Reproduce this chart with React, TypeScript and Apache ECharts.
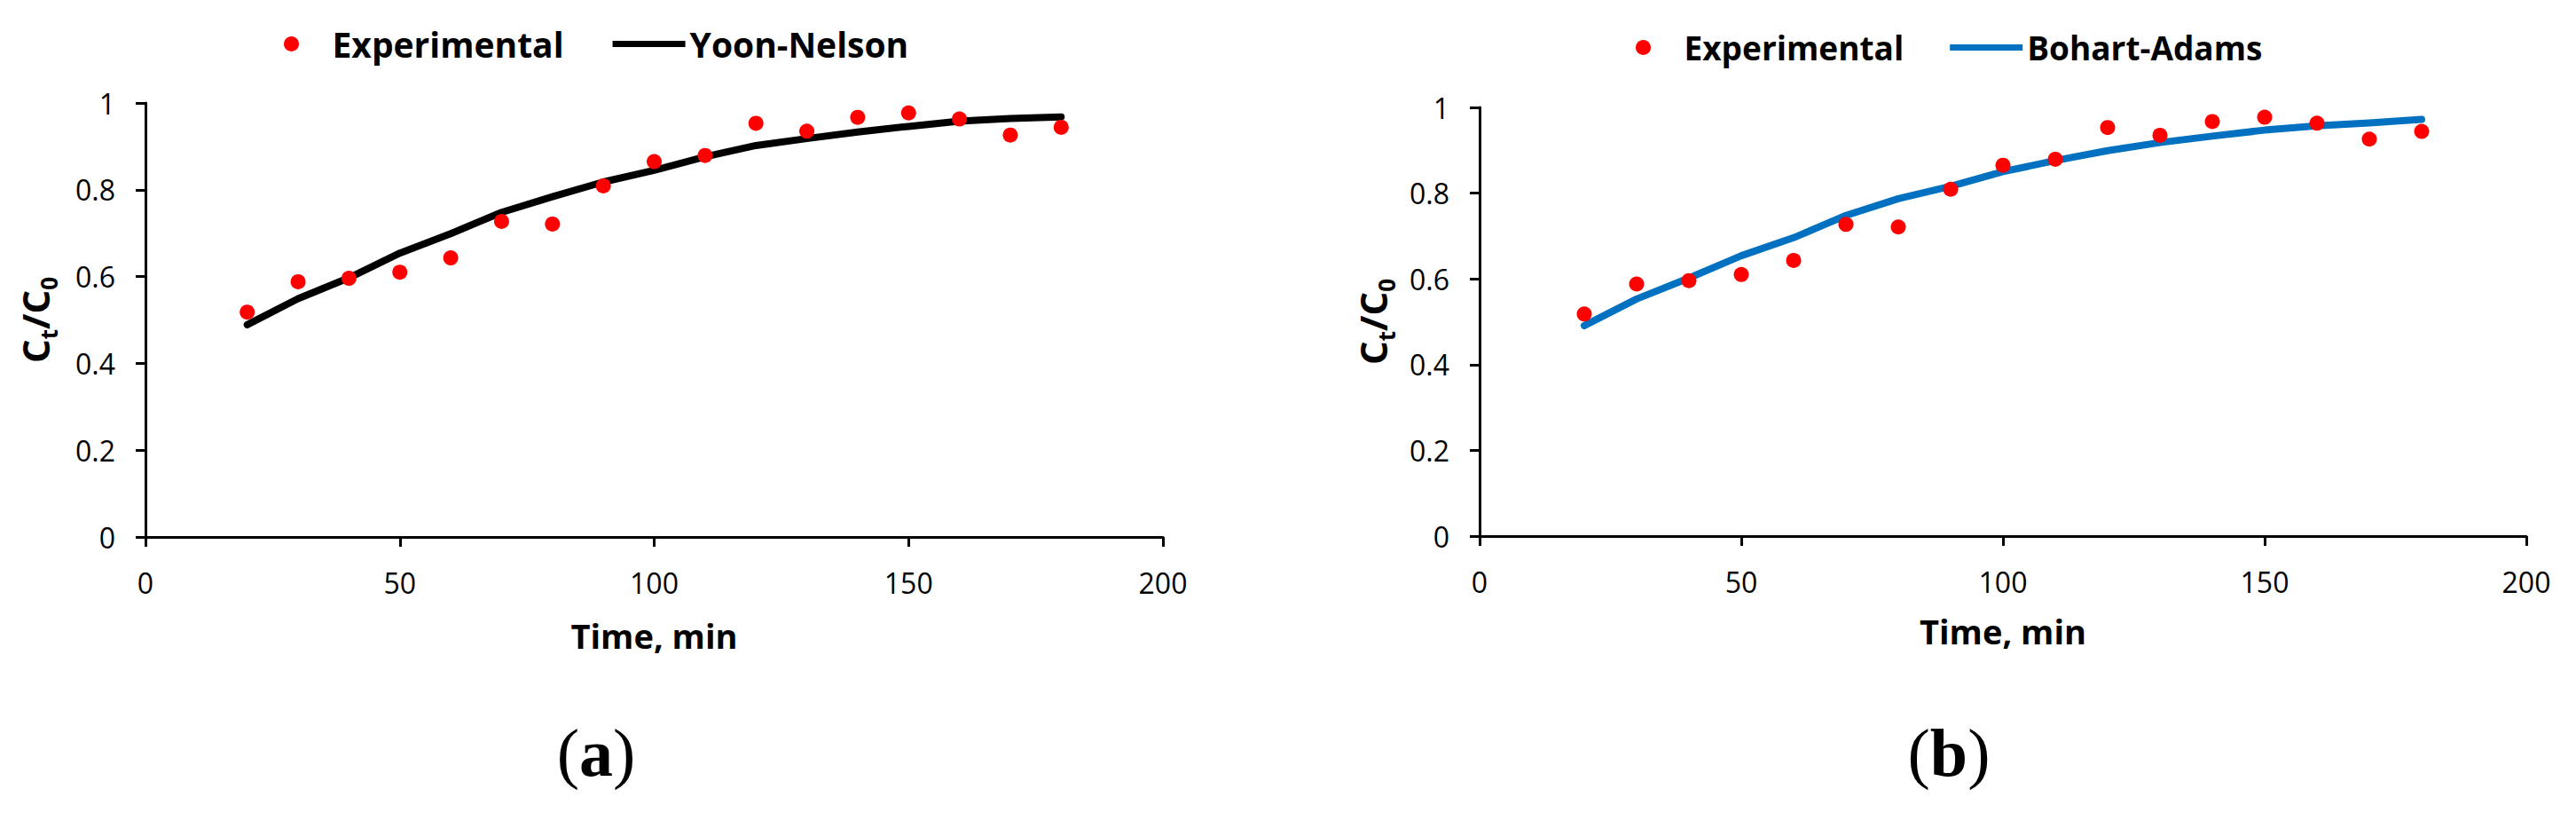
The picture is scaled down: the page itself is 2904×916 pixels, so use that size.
import React, { useEffect, useRef } from "react";
import * as echarts from "echarts";

const timeMin = [20, 30, 40, 50, 60, 70, 80, 90, 100, 110, 120, 130, 140, 150, 160, 170, 180];
const experimental = [0.518, 0.588, 0.596, 0.61, 0.643, 0.727, 0.721, 0.809, 0.865, 0.879, 0.953, 0.935, 0.967, 0.977, 0.963, 0.926, 0.944];
const yoonNelson = [0.489, 0.549, 0.597, 0.654, 0.699, 0.748, 0.784, 0.818, 0.845, 0.876, 0.902, 0.918, 0.933, 0.946, 0.958, 0.964, 0.968];
const bohartAdams = [0.491, 0.553, 0.602, 0.654, 0.696, 0.748, 0.787, 0.816, 0.85, 0.876, 0.899, 0.918, 0.933, 0.947, 0.957, 0.964, 0.972];
const panelLabels = ["a", "b"];
const modelNames = ["Yoon-Nelson", "Bohart-Adams"];

const FONT = "'Open Sans', 'Noto Sans', sans-serif";
const RED = "#FF0000";
const BLUE = "#0070C0";
const LINE_ICON = "path://M0 0H82V7H0Z";

const pairs = (ys: number[]) => timeMin.map((t, i) => [t, ys[i]]);

const xAxisBase = (gridIndex: number, nameGap: number) => ({
  type: "value",
  gridIndex,
  min: 0,
  max: 200,
  interval: 50,
  name: "Time, min",
  nameLocation: "middle",
  nameGap,
  nameTextStyle: { fontFamily: FONT, fontSize: 38, fontWeight: "bold", color: "#000" },
  axisLine: { show: true, onZero: false, lineStyle: { color: "#000", width: 3 } },
  axisTick: { show: true, inside: false, length: 11, lineStyle: { color: "#000", width: 3 } },
  axisLabel: { margin: 35, fontFamily: FONT, fontSize: 32, color: "#000" },
  splitLine: { show: false },
});

const yAxisBase = (gridIndex: number, nameGap: number) => ({
  type: "value",
  gridIndex,
  min: 0,
  max: 1,
  interval: 0.2,
  name: "{m|C}{s|t}{m|/C}{s|0}",
  nameLocation: "middle",
  nameGap,
  nameTextStyle: {
    color: "#000",
    rich: {
      m: { fontFamily: FONT, fontSize: 42, fontWeight: "bold", color: "#000", lineHeight: 44, verticalAlign: "top" },
      s: { fontFamily: FONT, fontSize: 26, fontWeight: "bold", color: "#000", lineHeight: 26, padding: [24, 0, 0, 0], verticalAlign: "top" },
    },
  },
  axisLine: { show: true, lineStyle: { color: "#000", width: 3 } },
  axisTick: { show: true, inside: false, length: 11, lineStyle: { color: "#000", width: 3 } },
  axisLabel: { margin: 34, fontFamily: FONT, fontSize: 32, color: "#000" },
  splitLine: { show: false },
});

const legendBase = (left: number, top: number, names: string[], fontSize: number, itemGap: number) => ({
  left,
  top,
  orient: "horizontal",
  itemWidth: 82,
  itemHeight: 17,
  itemGap,
  data: [{ name: names[0], icon: "circle" }, { name: names[1], icon: LINE_ICON }],
  selectedMode: false,
  textStyle: { fontFamily: FONT, fontSize, fontWeight: "bold", color: "#000" },
});

const panelText = (x: number, label: string) => ({
  type: "text",
  x,
  y: 848,
  style: {
    text: "{p|(}{b|" + label + "}{p|)}",
    align: "center",
    verticalAlign: "middle",
    rich: {
      p: { fontFamily: "'Liberation Serif', serif", fontSize: 76, color: "#000" },
      b: { fontFamily: "'Liberation Serif', serif", fontSize: 76, fontWeight: "bold", color: "#000" },
    },
  },
});

export default function App() {
  const ref = useRef<HTMLDivElement>(null);
  useEffect(() => {
    if (!ref.current) return;
    const chart = echarts.init(ref.current, null, { renderer: "svg" });
    const option: any = {
      animation: false,
      backgroundColor: "#fff",
      grid: [
        { left: 164, top: 116, width: 1147, height: 489, containLabel: false, outerBoundsMode: "none" },
        { left: 1668, top: 121, width: 1180, height: 483, containLabel: false, outerBoundsMode: "none" },
      ],
      xAxis: [xAxisBase(0, 92), xAxisBase(1, 88)],
      yAxis: [yAxisBase(0, 102), yAxisBase(1, 98)],
      legend: [
        legendBase(315, 25, ["Experimental", modelNames[0]], 39, 55),
        legendBase(1839, 30, ["Experimental", modelNames[1]], 37, 52),
      ],
      series: [
        {
          name: "Experimental",
          type: "scatter",
          xAxisIndex: 0,
          yAxisIndex: 0,
          data: pairs(experimental),
          symbol: "circle",
          symbolSize: 17,
          itemStyle: { color: RED, opacity: 1 },
          z: 3,
        },
        {
          name: modelNames[0],
          type: "line",
          xAxisIndex: 0,
          yAxisIndex: 0,
          data: pairs(yoonNelson),
          symbol: "none",
          showSymbol: false,
          lineStyle: { color: "#000", width: 8, cap: "round", join: "round" },
          itemStyle: { color: "#000" },
          z: 2,
        },
        {
          name: "Experimental",
          type: "scatter",
          xAxisIndex: 1,
          yAxisIndex: 1,
          data: pairs(experimental),
          symbol: "circle",
          symbolSize: 17,
          itemStyle: { color: RED, opacity: 1 },
          z: 3,
        },
        {
          name: modelNames[1],
          type: "line",
          xAxisIndex: 1,
          yAxisIndex: 1,
          data: pairs(bohartAdams),
          symbol: "none",
          showSymbol: false,
          lineStyle: { color: BLUE, width: 8, cap: "round", join: "round" },
          itemStyle: { color: BLUE },
          z: 2,
        },
      ],
      graphic: [panelText(672, panelLabels[0]), panelText(2197, panelLabels[1])],
    };
    chart.setOption(option);
    return () => chart.dispose();
  }, []);
  return (
    <div
      ref={ref}
      style={{ position: "absolute", left: 0, top: 0, width: 2904, height: 916, background: "#fff" }}
    />
  );
}
